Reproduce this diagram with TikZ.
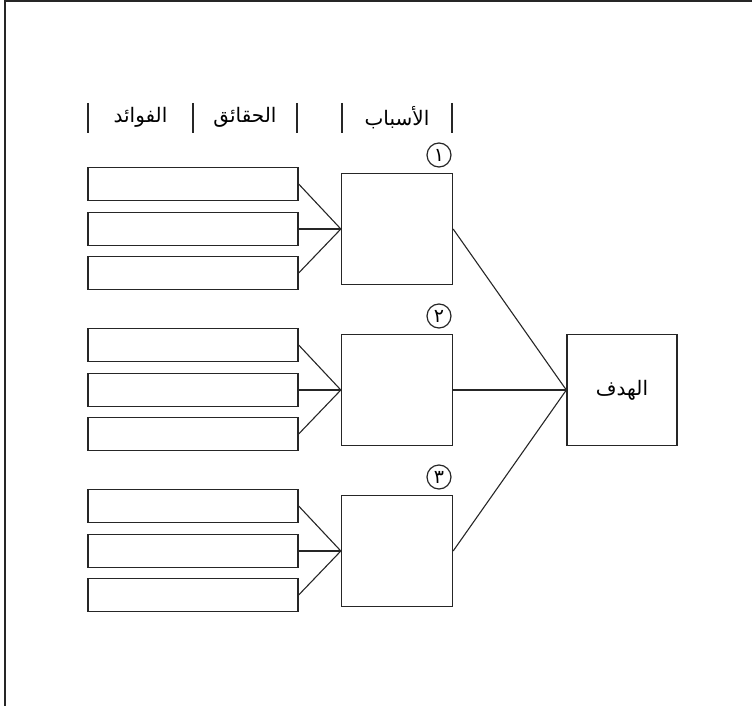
\documentclass[tikz,border=0pt]{standalone}
\usepackage{fontspec}
\TeXXeTstate=1
\newfontfamily\arabicfont[Script=Arabic]{DejaVu Sans}
\begin{document}
\begin{tikzpicture}[x=1pt,y=-1pt,
  box/.style={draw=black!85,line width=1.3pt,inner sep=0pt},
  smallbox/.style={box,minimum width=210pt,minimum height=33pt},
  midbox/.style={box,minimum width=111pt,minimum height=111pt},
  numcirc/.style={circle,draw=black!85,line width=1.2pt,minimum size=24pt,inner sep=0pt,font=\arabicfont\fontsize{19}{19}\selectfont},
  conn/.style={draw=black!85,line width=1.1pt},
  bar/.style={draw=black!85,line width=1.2pt},
  hdr/.style={font=\arabicfont\fontsize{20}{22}\selectfont,inner sep=0pt}]
\useasboundingbox (0,0) rectangle (752,706);
% frame
\draw[line width=2pt,black!85] (4.5,706) -- (4.5,1.5) -- (752,1.5);
% header bars
\foreach \i/\x in {1/88,2/193,3/297,4/342,5/452}{
  \coordinate (bt\i) at (\x,103);
  \coordinate (bb\i) at (\x,133);
  \draw[bar] (bt\i) -- (bb\i);
}
\node[hdr] (h1) at (140.5,117.5) {\beginR الفوائد\endR};
\node[hdr] (h2) at (245,117.5) {\beginR الحقائق\endR};
\node[hdr] (h3) at (397,117.5) {\beginR الأسباب\endR};
% goal
\node[midbox,minimum width=110pt,font=\arabicfont\fontsize{20}{22}\selectfont] (goal) at (622,390) {\beginR الهدف\endR};
% groups
\foreach \g/\yc/\d in {1/229/١,2/390/٢,3/551/٣}{
  \node[midbox] (m\g) at (397,\yc) {};
  \node[numcirc] (c\g) at (439,\yc-74) {\beginR\d\endR};
  \node[smallbox] (s\g a) at (193,\yc-45) {};
  \node[smallbox] (s\g b) at (193,\yc) {};
  \node[smallbox] (s\g c) at (193,\yc+44) {};
  \draw[conn] (s\g a.east) -- (m\g.west);
  \draw[conn] (s\g b.east) -- (m\g.west);
  \draw[conn] (s\g c.east) -- (m\g.west);
  \draw[conn] (m\g.east) -- (goal.west);
}
\end{tikzpicture}
\end{document}
